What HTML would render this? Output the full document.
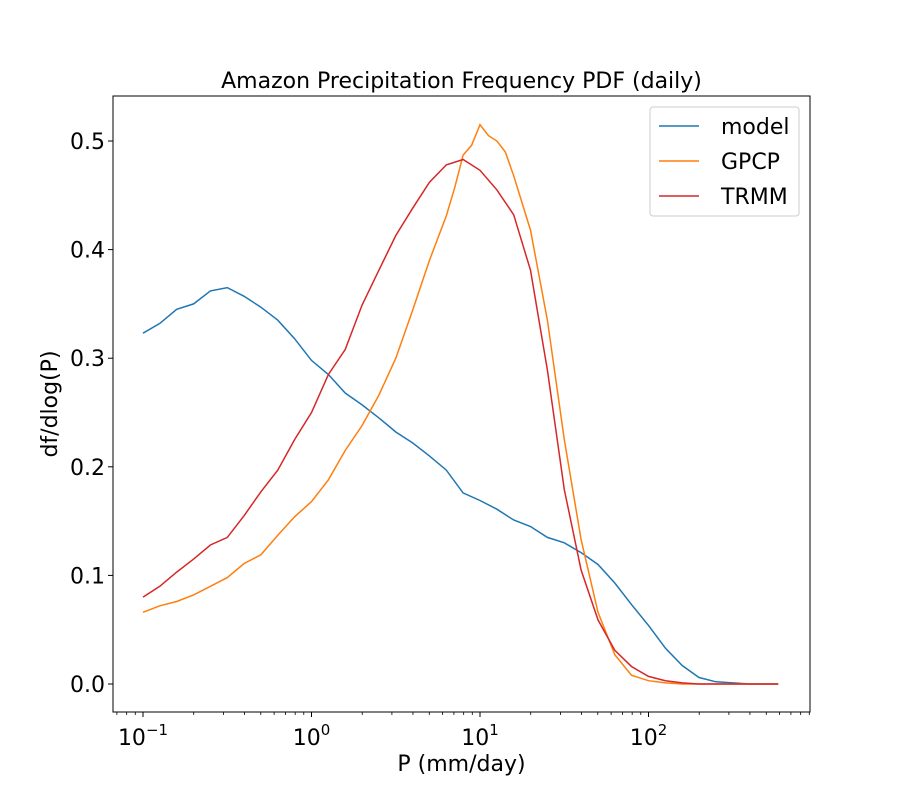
<!DOCTYPE html>
<html><head><meta charset="utf-8"><style>
body{margin:0;background:#fff;font-family:"DejaVu Sans","Liberation Sans",sans-serif}
</style></head><body>
<svg id="chart" width="900" height="800" xmlns="http://www.w3.org/2000/svg" font-family="DejaVu Sans, Liberation Sans, sans-serif"></svg>
<script>
const logP = [-1,-0.9,-0.8,-0.7,-0.6,-0.5,-0.4,-0.3,-0.2,-0.1,0,0.1,0.2,0.3,0.4,0.5,0.6,0.7,0.8,0.9,1.0,1.1,1.2,1.3,1.4,1.5,1.6,1.7,1.8,1.9,2.0,2.1,2.2,2.3,2.4,2.5,2.6,2.77];
const model = [0.323,0.332,0.345,0.35,0.362,0.365,0.357,0.347,0.335,0.318,0.298,0.285,0.268,0.257,0.245,0.232,0.222,0.21,0.197,0.176,0.169,0.161,0.151,0.145,0.135,0.13,0.121,0.11,0.093,0.073,0.054,0.033,0.017,0.006,0.002,0.001,0,0];
const gpcpLog = [-1,-0.9,-0.8,-0.7,-0.6,-0.5,-0.4,-0.3,-0.2,-0.1,0,0.1,0.2,0.3,0.4,0.5,0.6,0.7,0.8,0.85,0.9,0.95,1.0,1.05,1.1,1.15,1.2,1.3,1.4,1.5,1.6,1.7,1.8,1.9,2.0,2.1,2.2,2.4,2.77];
const gpcp = [0.066,0.072,0.076,0.082,0.09,0.098,0.111,0.119,0.137,0.154,0.168,0.188,0.215,0.238,0.266,0.3,0.344,0.39,0.431,0.457,0.487,0.496,0.515,0.505,0.5,0.49,0.468,0.418,0.335,0.225,0.133,0.066,0.027,0.008,0.003,0.001,0,0,0];
const trmm = [0.08,0.09,0.103,0.115,0.128,0.135,0.155,0.177,0.197,0.225,0.25,0.285,0.308,0.349,0.381,0.413,0.438,0.462,0.478,0.483,0.473,0.455,0.432,0.381,0.289,0.179,0.105,0.059,0.031,0.016,0.007,0.003,0.001,0,0,0,0,0];
const yTicks = [0,0.1,0.2,0.3,0.4,0.5];
const xTicks = [-1,0,1,2];

const svg = document.getElementById('chart');
const NS='http://www.w3.org/2000/svg';
const L=113,R=810,T=96,B=712;
const xs = l => 143 + (l+1)*168.5;
const ys = v => 684 - v*1086;
function mk(tag, attrs, parent){const e=document.createElementNS(NS,tag);for(const k in attrs)e.setAttribute(k,attrs[k]);(parent||svg).appendChild(e);return e;}

const title = mk('text',{x:(L+R)/2,y:88,'text-anchor':'middle','font-size':22,fill:'#000'});
title.textContent='Amazon Precipitation Frequency PDF (daily)';



yTicks.forEach(v=>{
  const y=ys(v);
  const t=mk('line',{x1:L-5,x2:L,y1:y,y2:y,stroke:'#000','stroke-width':1});
  
  
  const lb=mk('text',{x:L-8,y:y+8,'text-anchor':'end','font-size':22});
  lb.textContent=v.toFixed(1);
  
  
});
for(let d=-2;d<=2;d++){for(let m=1;m<10;m++){
  const l=d+Math.log10(m); const x=xs(l);
  if(x<L||x>R) continue;
  const major=m===1;
  const t=mk('line',{x1:x,x2:x,y1:B,y2:B+(major?5:3),stroke:'#000','stroke-width':major?1:0.8});
  
  
}}
xTicks.forEach(l=>{
  const x=xs(l);
  const lb=mk('text',{x:x,y:745,'text-anchor':'middle','font-size':22});
  lb.innerHTML='10<tspan dy="-10" font-size="15">'+(l<0?'\u2212'+(-l):l)+'</tspan>';
  
  
});
const xt=mk('text',{x:(L+R)/2,y:771,'text-anchor':'middle','font-size':22});
xt.textContent='P (mm/day)';


const yt=mk('text',{x:0,y:0,'text-anchor':'middle','font-size':22,transform:'translate(57,404) rotate(-90)'});
yt.textContent='df/dlog(P)';



function series(xarr, varr, color, name){
  const d=varr.map((v,i)=>(i?'L':'M')+xs(xarr[i]).toFixed(1)+','+ys(v).toFixed(1)).join('');
  const p=mk('path',{d:d,fill:'none',stroke:color,'stroke-width':1.5});
  
  
}
series(logP,model,'#1f77b4','model-line');
series(gpcpLog,gpcp,'#ff7f0e','gpcp-line');
series(logP,trmm,'#d62728','trmm-line');

const frame=mk('rect',{x:L,y:T,width:R-L,height:B-T,fill:'none',stroke:'#000','stroke-width':1});



const lg=mk('g',{});


mk('rect',{x:650,y:107,width:149,height:109,rx:3,fill:'#fff',stroke:'#ccc'},lg);
[['model','#1f77b4'],['GPCP','#ff7f0e'],['TRMM','#d62728']].forEach((e,i)=>{
  const y=126+i*35;
  const g=mk('g',{},lg);
  
  
  mk('line',{x1:659,x2:699,y1:y,y2:y,stroke:e[1],'stroke-width':1.5},g);
  const t=mk('text',{x:721,y:y+8,'font-size':22},g);
  t.textContent=e[0];
});
</script>
</body></html>
